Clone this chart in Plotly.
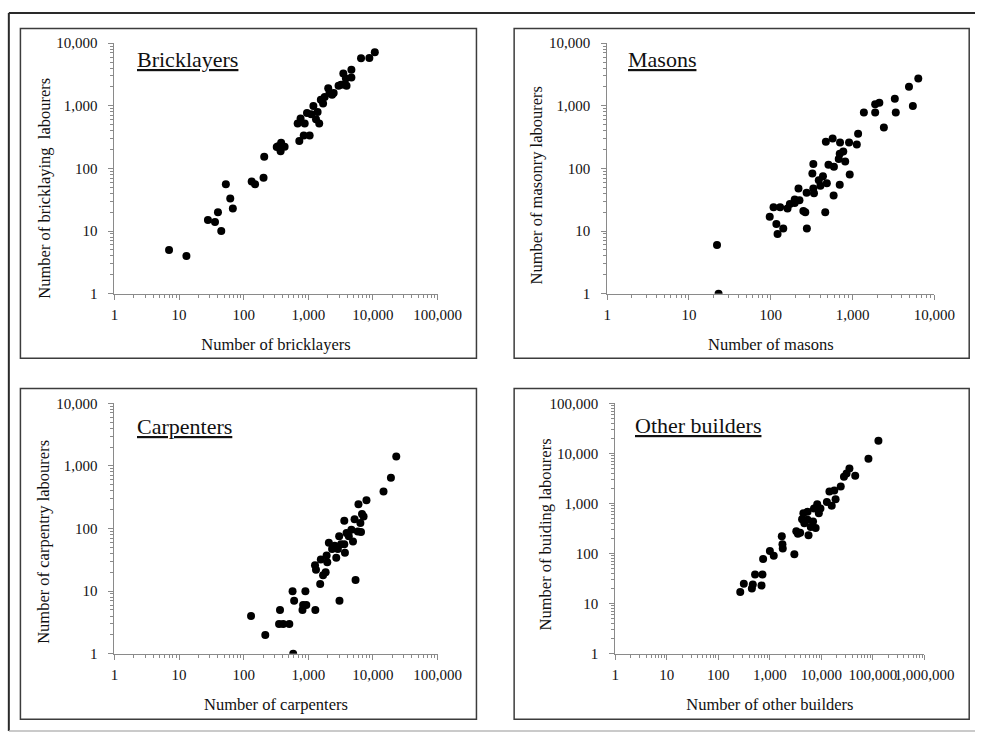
import plotly.graph_objects as go

W, H = 1005, 741

# ---------------- data ----------------
brick_x = [7, 13, 28, 36, 40, 45, 53, 62, 68, 133, 150, 208, 203, 340, 373, 380, 430, 325,
           726, 685, 760, 880, 850, 1050, 955, 1110, 1200, 1316, 1394, 1476, 1563, 1694, 1794,
           2035, 2130, 2335, 2470, 2940, 3215, 3485, 3690, 3820, 3910, 4644, 4644, 6550, 8815, 10700]
brick_y = [5, 4, 15, 14, 20, 10, 56, 33, 23, 62, 56, 154, 71, 226, 189, 258, 223, 221,
           274, 523, 626, 523, 336, 336, 768, 732, 990, 612, 796, 523, 1256, 1087, 1383,
           1911, 1597, 1503, 1600, 2100, 2180, 3280, 2180, 2740, 2100, 3785, 2840, 5760, 5800, 7150]

mason_x = [22, 23, 97, 108, 117, 121, 130, 142, 160, 171, 196, 196, 218, 224, 250, 264, 276, 274,
           322, 331, 331, 337, 386, 404, 434, 463, 471, 484, 507, 570, 591, 586, 677, 696, 696,
           702, 769, 812, 922, 905, 1125, 1167, 1373, 1887, 1887, 2122, 2410, 3280, 3370, 4887,
           5450, 6350]
mason_y = [6, 1, 17, 24, 13, 9, 24, 11, 23, 27, 32, 28, 48, 31, 21, 20, 11, 41,
           83, 118, 48, 40, 65, 53, 75, 20, 266, 58, 115, 300, 106, 37, 141, 171, 55,
           260, 186, 129, 80, 260, 242, 359, 784, 784, 1059, 1125, 451, 1300, 784, 2025,
           997, 2730]

carp_x = [130, 216, 353, 409, 509, 365, 584, 571, 604, 813, 832, 933, 902, 1286, 1271, 1316,
          1528, 1563, 1694, 1856, 1922, 1967, 2081, 2335, 2560, 2710, 2870, 3005, 3040, 3215,
          3606, 3606, 3690, 3910, 4235, 4644, 4917, 5203, 5387, 5840, 5975, 6400, 6547, 6780,
          7180, 7950, 14600, 19000, 23000]
carp_y = [4, 2, 3, 3, 3, 5, 1, 10, 7, 5, 6, 6, 10, 5, 26, 22,
          13, 32, 18, 20, 37, 29, 59, 47, 53, 34, 47, 75, 7, 56,
          133, 56, 41, 85, 75, 96, 62, 141, 15, 90, 245, 122, 88, 171,
          155, 283, 391, 647, 1413]

other_x = [266, 312, 447, 466, 516, 688, 718, 739, 1000, 1189, 1703, 1753, 1778, 2985, 3255,
           3497, 3868, 4217, 4467, 4667, 5387, 5387, 5623, 6218, 6880, 7180, 7720, 8295, 8913,
           9572, 12770, 14320, 15850, 17780, 18840, 23710, 27380, 30730, 34970, 45300, 81750,
           127700]
other_y = [17, 25, 20, 24, 38, 23, 38, 78, 113, 90, 222, 153, 126, 97, 278,
           250, 260, 485, 636, 405, 685, 471, 232, 338, 437, 796, 323, 968, 636,
           796, 1075, 1738, 898, 1817, 1211, 2177, 3415, 3966, 4969, 3572, 7795,
           17790]

# tick labels
tick_vals = [1, 10, 100, 1000, 10000, 100000, 1000000]
tick_text = ["1", "10", "100", "1,000", "10,000", "100,000", "1,000,000"]

panel_titles = ["Bricklayers", "Masons", "Carpenters", "Other builders"]
x_titles = ["Number of bricklayers", "Number of masons", "Number of carpenters", "Number of other builders"]
y_titles = ["Number of bricklaying&nbsp; labourers", "Number of masonry labourers",
            "Number of carpentry labourers", "Number of buiding labourers"]

# ---------------- layout geometry (pixels) ----------------
def fx(px):
    return px / W

def fy(py):
    return 1 - py / H

FONT = "Liberation Serif, Times New Roman, serif"
AXIS_COL = "#8a8a8a"
TXT = "#111111"

panels = [
    dict(x=brick_x, y=brick_y, area=(114.3, 448.7, 36, 292), xr=5, yr=4,
         lab=(136, 53), yt=(41, 184), box=(17, 489, 21, 358)),
    dict(x=mason_x, y=mason_y, area=(624.3, 963.0, 36, 292), xr=4, yr=4,
         lab=(644, 53), yt=(551, 181), box=(528, 999, 21, 358)),
    dict(x=carp_x, y=carp_y, area=(114.3, 448.7, 404, 660), xr=5, yr=4,
         lab=(136, 428), yt=(41, 546), box=(17, 489, 389, 727)),
    dict(x=other_x, y=other_y, area=(632.7, 952.7, 404, 660), xr=6, yr=5,
         lab=(651, 427), yt=(560, 538), box=(528, 999, 389, 727)),
]

fig = go.Figure()
shapes = []
annotations = []

for i, p in enumerate(panels):
    n = i + 1
    xa = "x" if n == 1 else f"x{n}"
    ya = "y" if n == 1 else f"y{n}"
    fig.add_trace(go.Scatter(
        x=p["x"], y=p["y"], mode="markers", xaxis=xa, yaxis=ya,
        marker=dict(color="black", size=8, line=dict(width=0)),
        showlegend=False, hoverinfo="x+y"))

    x0, x1, y0, y1 = p["area"]
    xminor = [m * 10 ** k for k in range(p["xr"]) for m in range(2, 10)]
    yminor = [m * 10 ** k for k in range(p["yr"]) for m in range(2, 10)]
    common = dict(type="log", showgrid=False, zeroline=False, showline=True,
                  linecolor=AXIS_COL, linewidth=1, ticks="outside", ticklen=5,
                  tickcolor=AXIS_COL, tickwidth=1, tickangle=0,
                  tickfont=dict(family=FONT, size=15, color=TXT))
    xaxis = dict(common, domain=[fx(x0), fx(x1)], range=[0, p["xr"]],
                 tickvals=tick_vals[:p["xr"] + 1], ticktext=tick_text[:p["xr"] + 1],
                 anchor=ya, ticklabelstandoff=2,
                 minor=dict(tickvals=xminor, ticks="outside", ticklen=3,
                            tickcolor=AXIS_COL, showgrid=False),
                 title=dict(text=x_titles[i], font=dict(family=FONT, size=16.5, color=TXT),
                            standoff=16))
    yaxis = dict(common, domain=[fy(y1), fy(y0)], range=[0, p["yr"]],
                 tickvals=tick_vals[:p["yr"] + 1], ticktext=tick_text[:p["yr"] + 1],
                 anchor=xa, ticklabelstandoff=8,
                 minor=dict(tickvals=yminor, ticks="outside", ticklen=3,
                            tickcolor=AXIS_COL, showgrid=False))
    fig.update_layout(**{("xaxis" if n == 1 else f"xaxis{n}"): xaxis,
                         ("yaxis" if n == 1 else f"yaxis{n}"): yaxis})

    bx0, bx1, by0, by1 = p["box"]
    shapes.append(dict(type="rect", xref="paper", yref="paper",
                       x0=fx(bx0), x1=fx(bx1), y0=fy(by1), y1=fy(by0),
                       line=dict(color="#3c3c3c", width=1.5), layer="below"))
    annotations.append(dict(xref="paper", yref="paper", x=fx(p["lab"][0]), y=fy(p["lab"][1]),
                            xanchor="left", yanchor="middle", showarrow=False,
                            text=f"<u>{panel_titles[i]}</u>",
                            font=dict(family=FONT, size=22, color=TXT)))
    annotations.append(dict(xref="paper", yref="paper", x=fx(p["yt"][0]), y=fy(p["yt"][1]),
                            xanchor="center", yanchor="middle", showarrow=False,
                            textangle=-90, text=y_titles[i],
                            font=dict(family=FONT, size=16.5, color=TXT)))

# outer frame
shapes += [
    dict(type="line", xref="paper", yref="paper", x0=fx(5), x1=1, y0=fy(5), y1=fy(5),
         line=dict(color="#2a2a2a", width=2)),
    dict(type="line", xref="paper", yref="paper", x0=fx(5), x1=fx(5), y0=fy(5), y1=fy(739),
         line=dict(color="#2a2a2a", width=2)),
    dict(type="line", xref="paper", yref="paper", x0=fx(5), x1=1, y0=fy(739), y1=fy(739),
         line=dict(color="#b8b8b8", width=1.5)),
]

fig.update_layout(width=W, height=H, autosize=False,
                  margin=dict(l=0, r=0, t=0, b=0),
                  paper_bgcolor="white", plot_bgcolor="white",
                  shapes=shapes, annotations=annotations,
                  font=dict(family=FONT, color=TXT))

fig.write_html("out.html", config={"displayModeBar": False},
               post_script="document.body.style.margin='0px';document.body.style.overflow='hidden';")
